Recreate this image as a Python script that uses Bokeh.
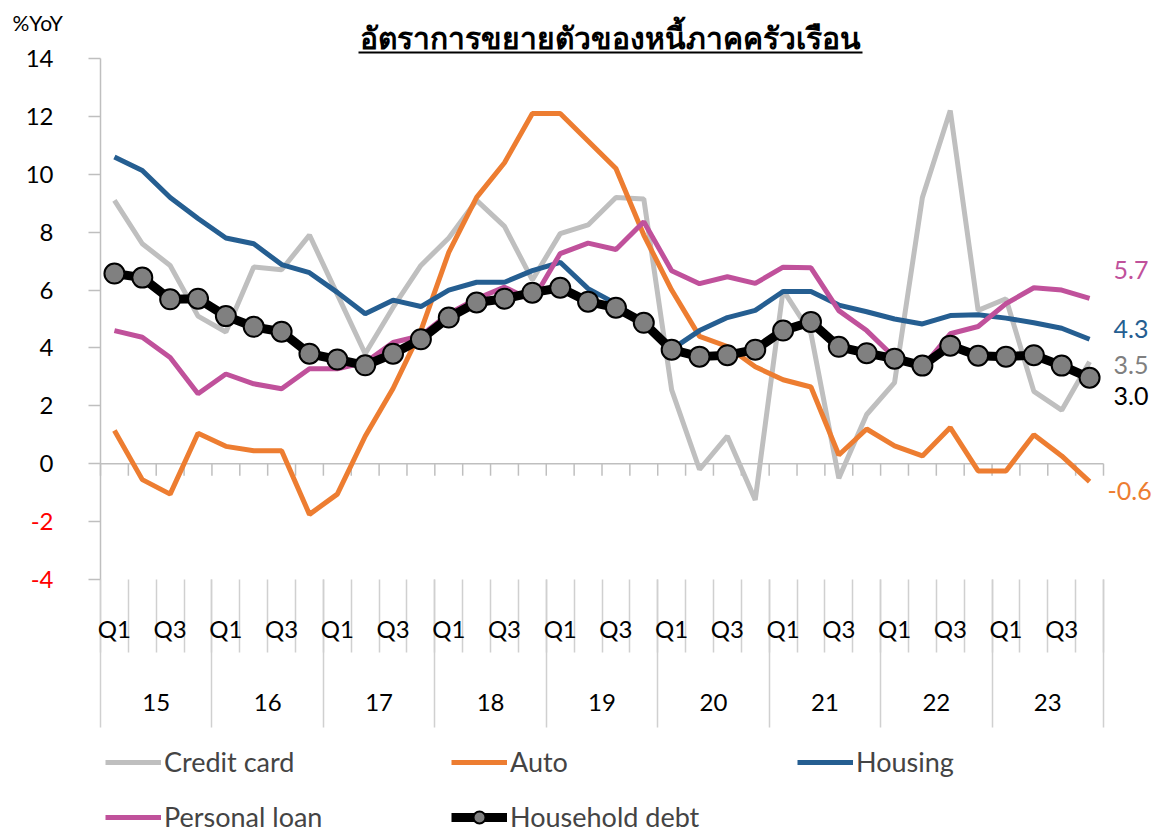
from bokeh.plotting import figure
from bokeh.models import Range1d, LinearAxis, FixedTicker, Legend, LegendItem
from bokeh.core.properties import value
from bokeh.embed import file_html
from bokeh.resources import INLINE

# ---------------- data ----------------
title_text = "อัตราการขยายตัวของหนี้ภาคครัวเรือน"
unit_text = "%YoY"
years = ["15", "16", "17", "18", "19", "20", "21", "22", "23"]
quarters = ["Q1", "Q2", "Q3", "Q4"]
shown_quarters = ["Q1", "Q3"]
y_ticks = [-4, -2, 0, 2, 4, 6, 8, 10, 12, 14]

credit_card = [9.1, 7.6, 6.85, 5.1, 4.55, 6.8, 6.7, 7.9, 5.85, 3.8, 5.4, 6.85,
               7.8, 9.1, 8.2, 6.35, 7.95, 8.25, 9.2, 9.15, 2.55, -0.2, 0.95, -1.25,
               6.0, 4.5, -0.5, 1.7, 2.8, 9.2, 12.2, 5.3, 5.7, 2.5, 1.85, 3.52]
auto = [1.15, -0.55, -1.05, 1.05, 0.6, 0.45, 0.45, -1.75, -1.05, 0.95, 2.6, 4.6,
        7.3, 9.2, 10.4, 12.1, 12.1, 11.15, 10.2, 7.9, 6.0, 4.4, 4.05, 3.35,
        2.9, 2.65, 0.3, 1.2, 0.62, 0.27, 1.25, -0.25, -0.25, 1.0, 0.27, -0.62]
housing = [10.6, 10.13, 9.2, 8.47, 7.8, 7.6, 6.88, 6.6, 5.92, 5.18, 5.65, 5.43,
           6.0, 6.27, 6.27, 6.67, 6.96, 6.05, 5.53, 4.84, 3.95, 4.6, 5.05, 5.3,
           5.95, 5.95, 5.48, 5.25, 5.0, 4.83, 5.12, 5.15, 5.03, 4.87, 4.68, 4.3]
personal_loan = [4.6, 4.37, 3.67, 2.42, 3.1, 2.76, 2.59, 3.28, 3.28, 3.5, 4.19, 4.42,
                 5.18, 5.7, 6.1, 5.63, 7.26, 7.62, 7.4, 8.36, 6.67, 6.22, 6.46, 6.23,
                 6.79, 6.77, 5.29, 4.6, 3.67, 3.33, 4.49, 4.74, 5.53, 6.08, 6.0, 5.71]
household_debt = [6.57, 6.43, 5.68, 5.7, 5.1, 4.73, 4.56, 3.8, 3.6, 3.4, 3.8, 4.3,
                  5.05, 5.57, 5.7, 5.91, 6.08, 5.6, 5.39, 4.87, 3.94, 3.7, 3.75, 3.94,
                  4.6, 4.9, 4.04, 3.82, 3.63, 3.39, 4.08, 3.73, 3.7, 3.75, 3.39, 2.97]

series_names = ["Credit card", "Auto", "Housing", "Personal loan", "Household debt"]
series_colors = ["#BFBFBF", "#ED7D31", "#255E91", "#C0519B", "#000000"]
end_label_colors = ["#7F7F7F", "#ED7D31", "#255E91", "#C0519B", "#000000"]

# ---------------- layout geometry (page pixels) ----------------
OFF = 0                      # page offset of the canvas
W, H = 1158, 833             # figure size
PL, PR, PT, PB = 100, 1103, 58, 579   # plot area on the page
nq = len(quarters)
n = len(household_debt)
DX = (PR - PL) / n
PY = (PB - PT) / (max(y_ticks) - min(y_ticks))


def xd(px):
    return -0.5 + (px - PL) / DX


def yd(py):
    return max(y_ticks) - (py - PT) / PY


x = list(range(n))
bounds = [i - 0.5 for i in range(n + 1)]
q_ticks = [i for i in x if quarters[i % nq] in shown_quarters]
q_labels = {i: quarters[i % nq] for i in q_ticks}
year_centers = [k * nq + (nq - 1) / 2 for k in range(len(years))]
year_labels = {c: y for c, y in zip(year_centers, years)}
year_bounds = [k * nq - 0.5 for k in range(len(years) + 1)]

FONT = "Lato"
GRAY = "#BFBFBF"
SEP = "#D0D0D0"

p = figure(width=W, height=H, x_range=Range1d(xd(OFF), xd(OFF + W)),
           y_range=Range1d(yd(OFF + H), yd(OFF)), title=None,
           output_backend="svg", toolbar_location=None, x_axis_location=None,
           min_border_left=0, min_border_right=0, min_border_top=0, min_border_bottom=0)
p.outline_line_color = None
p.xgrid.visible = False
p.ygrid.visible = False
p.background_fill_color = "white"
p.border_fill_color = "white"

# y axis at the plot's left edge
ya = p.yaxis[0]
ya.fixed_location = bounds[0]
ya.bounds = (min(y_ticks), max(y_ticks))
ya.ticker = FixedTicker(ticks=y_ticks)
ya.major_label_overrides = {t: "" for t in y_ticks if t < 0}
ya.major_label_text_font = FONT
ya.major_label_text_font_size = "24px"
ya.major_label_text_color = "black"
ya.axis_line_color = GRAY
ya.axis_line_width = 1.5
ya.major_tick_line_color = GRAY
ya.major_tick_line_width = 1.5
ya.major_tick_out = 12
ya.major_tick_in = 0
ya.minor_tick_line_color = None
ya.major_label_standoff = 35

neg = [t for t in y_ticks if t < 0]
p.text(x=[xd(PL - 47)] * len(neg), y=neg, text=[str(t) for t in neg],
       text_align="right", text_baseline="middle", text_color="#FF0000",
       text_font=value(FONT), text_font_size="24px")


def x_axis(ticks, minor, labels, minor_out, standoff, style="normal"):
    ax = LinearAxis(fixed_location=min(y_ticks),
                    ticker=FixedTicker(ticks=ticks, minor_ticks=minor),
                    major_label_overrides=labels)
    ax.axis_line_color = None
    ax.major_tick_line_color = None
    ax.major_tick_out = 0
    ax.major_tick_in = 0
    ax.minor_tick_out = minor_out
    ax.minor_tick_in = 0
    ax.minor_tick_line_color = SEP if minor_out else None
    ax.minor_tick_line_width = 1.5
    ax.major_label_standoff = standoff
    ax.major_label_text_font = FONT
    ax.major_label_text_font_size = "24px"
    ax.major_label_text_font_style = style
    ax.major_label_text_color = "black"
    p.add_layout(ax, "below")


x_axis([], bounds, {}, 73, 0)                 # quarter separators
x_axis([], year_bounds, {}, 148, 0)           # year separators
x_axis(q_ticks, [], q_labels, 0, 34)          # Q1 / Q3 labels
x_axis(year_centers, [], year_labels, 0, 114)  # year labels

# zero line with downward ticks at quarter boundaries
p.line(x=[bounds[0], bounds[-1]], y=[0, 0], line_color=GRAY, line_width=1.5)
tick_len = 12 / PY
p.segment(x0=bounds, y0=[0] * len(bounds), x1=bounds, y1=[-tick_len] * len(bounds),
          line_color=GRAY, line_width=1.5)

# series
data = [credit_card, auto, housing, personal_loan]
renderers = []
for vals, col in zip(data, series_colors[:4]):
    renderers.append([p.line(x, vals, line_color=col, line_width=5)])
hl = p.line(x, household_debt, line_color="black", line_width=9)
hs = p.scatter(x, household_debt, size=20, fill_color="#808080", line_color="black",
               line_width=2)
renderers.append([hl, hs])

legend = Legend(items=[LegendItem(label=nm, renderers=r) for nm, r in zip(series_names, renderers)],
                location=(105 - OFF, 0), orientation="horizontal", ncols=3)
legend.border_line_color = None
legend.background_fill_alpha = 0
legend.label_text_font = FONT
legend.label_text_font_size = "27px"
legend.glyph_width = 56
legend.glyph_height = 30
legend.label_height = 28
legend.label_width = 265
legend.label_standoff = 3
legend.spacing = 22
legend.padding = 0
legend.margin = 0
p.add_layout(legend)

# end-value labels (px shift upward from the last point)
end_shift = [-3, -9, 10, 28, -18]
end_x = [1113, 1107, 1113, 1113, 1113]
all_series = data + [household_debt]
p.text(x=[xd(v) for v in end_x],
       y=[s[-1] + d / PY for s, d in zip(all_series, end_shift)],
       text=[f"{s[-1]:.1f}" for s in all_series],
       text_color=end_label_colors, text_align="left", text_baseline="middle",
       text_font=value(FONT), text_font_size="25px")

# title (underlined) and unit
p.text(x=[xd(610)], y=[yd(37)], text=[title_text], text_align="center",
       text_baseline="middle", text_font=value("Noto Sans"), text_font_size="30px",
       text_font_style="bold", text_color="black")
p.segment(x0=[xd(358)], y0=[yd(52)], x1=[xd(862)], y1=[yd(52)],
          line_color="black", line_width=2)
p.text(x=[xd(12)], y=[yd(22)], text=[unit_text], text_align="left",
       text_baseline="middle", text_font=value(FONT), text_font_size="21px",
       text_color="black")

open("out.html", "w").write(file_html(p, INLINE))
